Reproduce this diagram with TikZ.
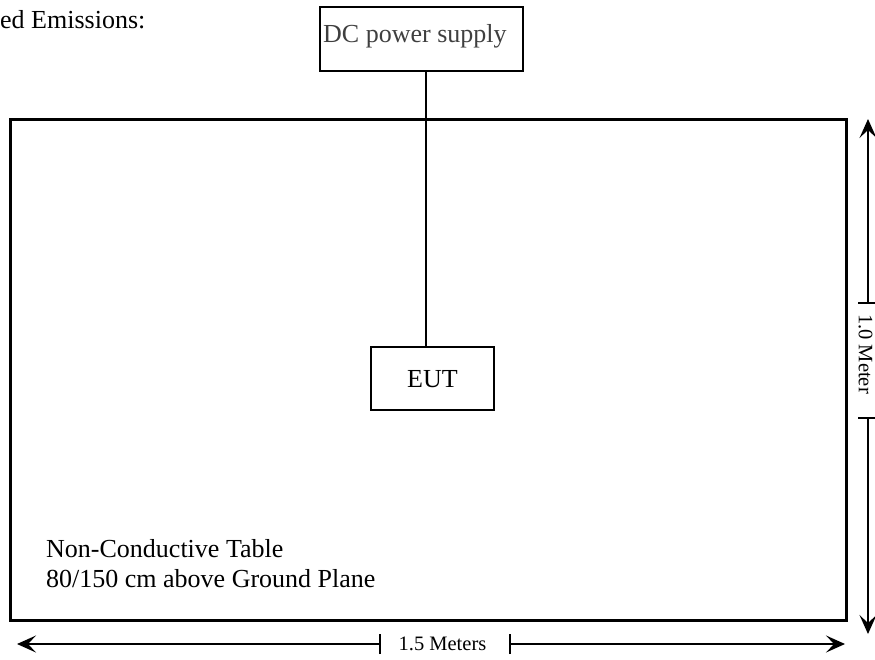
\documentclass[tikz,border=0pt]{standalone}
\usepackage{fontspec}
\setmainfont{Liberation Serif}
\usetikzlibrary{arrows.meta}
\definecolor{dcgray}{HTML}{3F3F3F}
\tikzset{
  boxnode/.style={draw, line width=1.6pt, inner sep=0pt},
  tablebox/.style={draw, line width=3pt, inner sep=0pt},
  bigtext/.style={font=\fontsize{26}{30}\selectfont, inner sep=0pt},
  dimtext/.style={font=\fontsize{20.5}{24}\selectfont, inner sep=0pt},
  dimline/.style={line width=1.3pt},
  dimarrow/.style={line width=1.3pt, -{Stealth[length=19pt, width=17pt, inset=8pt]}},
  tick/.style={line width=1.3pt}
}
\begin{document}
\begin{tikzpicture}[x=1pt, y=-1pt]
\useasboundingbox (0,0) rectangle (875,659);
% title (cut off)
\node[bigtext, anchor=base west] (title) at (0,28) {ed Emissions:};
% table
\node[tablebox, minimum width=836pt, minimum height=501pt] (table) at (428,369.5) {};
% DC power supply
\node[boxnode, minimum width=203pt, minimum height=64pt] (dc) at (421.5,39) {};
\node[bigtext, text=dcgray, anchor=base west] (dclabel) at (323,42) {DC power supply};
% EUT
\node[boxnode, minimum width=123pt, minimum height=63pt] (eut) at (432.5,378.5) {};
\node[bigtext, anchor=base] (eutlabel) at (432.5,387) {EUT};
\draw[line width=1.6pt] ([xshift=4.5pt]dc.south) -- ([xshift=-6.5pt]eut.north);
% table text
\node[bigtext, anchor=base west] (nct) at (46,557) {Non-Conductive Table};
\node[bigtext, anchor=base west] (above) at (46,587) {80/150 cm above Ground Plane};
% horizontal dimension
\node[dimtext, anchor=center] (hlabel) at (442.5,644) {1.5 Meters};
\coordinate (hl) at (380,644);
\coordinate (hr) at (510,644);
\coordinate (hlend) at (17,644);
\coordinate (hrend) at (845,644);
\draw[dimarrow] (hl) -- (hlend);
\draw[dimarrow] (hr) -- (hrend);
\draw[tick] ([yshift=-10pt]hl) -- ([yshift=10pt]hl);
\draw[tick] ([yshift=-10pt]hr) -- ([yshift=10pt]hr);
% vertical dimension
\node[dimtext, rotate=-90, anchor=center] (vlabel) at (865.5,354) {1.0 Meter};
\coordinate (vt) at (868,303);
\coordinate (vb) at (868,418);
\coordinate (vtend) at (868,119);
\coordinate (vbend) at (868,634);
\draw[dimarrow] (vt) -- (vtend);
\draw[dimarrow] (vb) -- (vbend);
\draw[tick] ([xshift=-10pt]vt) -- ([xshift=10pt]vt);
\draw[tick] ([xshift=-10pt]vb) -- ([xshift=10pt]vb);
\end{tikzpicture}
\end{document}
